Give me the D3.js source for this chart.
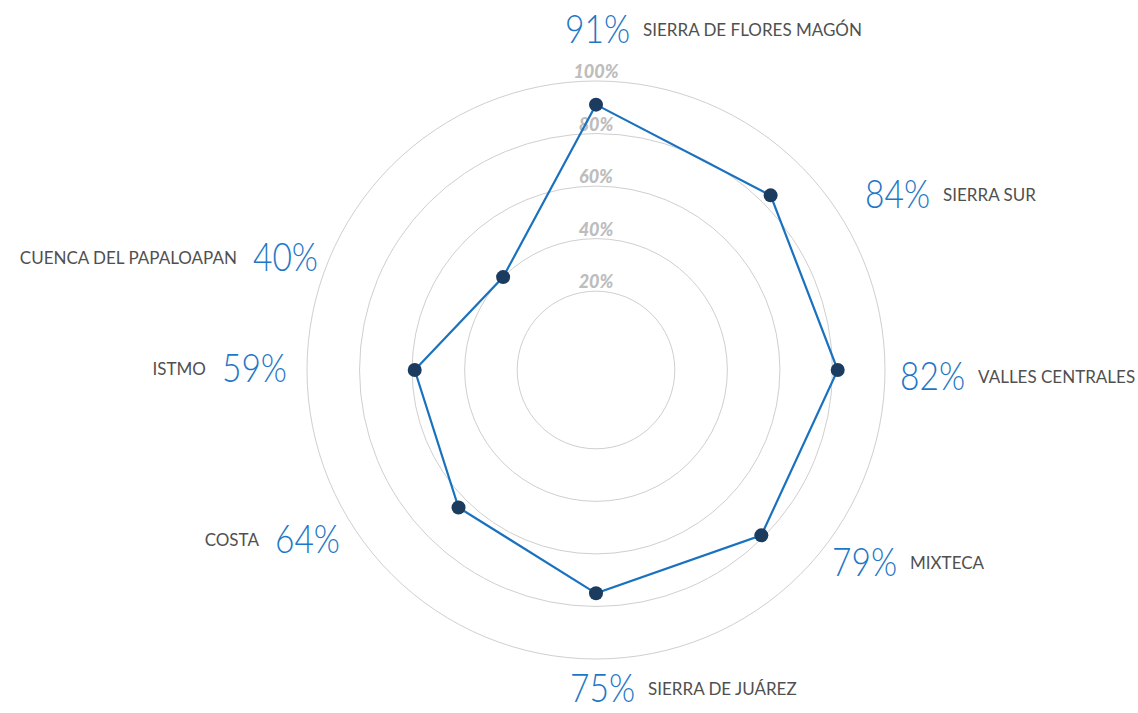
<!DOCTYPE html>
<html>
<head>
<meta charset="utf-8">
<script src="https://cdn.jsdelivr.net/npm/d3@7"></script>
<style>
  body { margin: 0; background: #fff; }
  svg { display: block; }
</style>
</head>
<body>
<svg class="chart"></svg>
<script>
// Chart data
const regions = ["SIERRA DE FLORES MAGÓN", "SIERRA SUR", "VALLES CENTRALES", "MIXTECA",
  "SIERRA DE JUÁREZ", "COSTA", "ISTMO", "CUENCA DEL PAPALOAPAN"];
const values = [91, 84, 82, 79, 75, 64, 59, 40];
const ringTicks = [20, 40, 60, 80, 100];

// Label placement (offset of the percent text from the chart center)
const labelOffsets = [[-31, -342], [269, -177], [304, 5], [236, 191],
  [-26, 317], [-256, 168], [-309, -3], [-278, -114]];

const width = 1138;
const height = 713;
const cx = 596, cy = 370;

const svg = d3.select(".chart")
    .attr("width", width)
    .attr("height", height);

const g = svg.append("g").attr("transform", `translate(${cx},${cy})`);

// radial scale, 0% sits a little off the center
const r = d3.scaleLinear().domain([-10, 100]).range([0, 289]);
const angle = d3.scaleLinear().domain([0, regions.length]).range([0, 2 * Math.PI]);

// rings
g.selectAll(".ring")
    .data(ringTicks)
    .enter().append("circle")
    .attr("class", "ring")
    .attr("r", d => r(d))
    .attr("fill", "none")
    .attr("stroke", "#cfcfcf")
    .attr("stroke-width", 1);

g.selectAll(".ring-label")
    .data(ringTicks)
    .enter().append("text")
    .attr("class", "ring-label")
    .attr("x", 0)
    .attr("y", d => -r(d) - 10)
    .attr("text-anchor", "middle")
    .attr("dominant-baseline", "central")
    .attr("font-family", "Lato, sans-serif")
    .attr("font-weight", 900)
    .attr("font-style", "italic")
    .attr("font-size", 18)
    .attr("fill", "#bdbdbd")
    .text(d => d + "%");

const pts = values.map((v, i) => {
    const a = angle(i);
    return [r(v) * Math.sin(a), -r(v) * Math.cos(a)];
});

g.append("path")
    .datum(pts)
    .attr("d", d3.line().curve(d3.curveLinearClosed))
    .attr("fill", "none")
    .attr("stroke", "#1a72bf")
    .attr("stroke-width", 2.2);

g.selectAll(".pin")
    .data(pts)
    .enter().append("circle")
    .attr("class", "pin")
    .attr("cx", d => d[0])
    .attr("cy", d => d[1])
    .attr("r", 7)
    .attr("fill", "#1b3b5f");

// labels
regions.forEach((name, i) => {
    const [dx, dy] = labelOffsets[i];
    const left = angle(i) > Math.PI;
    const lg = g.append("g").attr("transform", `translate(${dx},${dy})`);
    const pct = lg.append("text")
        .attr("text-anchor", left ? "end" : "start")
        .attr("dominant-baseline", "central")
        .attr("font-family", "Lato, sans-serif")
        .attr("font-weight", 300)
        .attr("font-size", 39)
        .attr("fill", "#1e77c6")
        .text(values[i] + "%");
    // squeeze a little: the original face is narrower
    const w = pct.node().getComputedTextLength() * 0.86;
    pct.attr("textLength", w).attr("lengthAdjust", "spacingAndGlyphs");
    lg.append("text")
        .attr("x", left ? -w - 16 : w + 13)
        .attr("y", 1)
        .attr("text-anchor", left ? "end" : "start")
        .attr("dominant-baseline", "central")
        .attr("font-family", "Lato, sans-serif")
        .attr("font-size", 17)
        .attr("fill", "#505050")
        .text(name);
});
</script>
</body>
</html>
